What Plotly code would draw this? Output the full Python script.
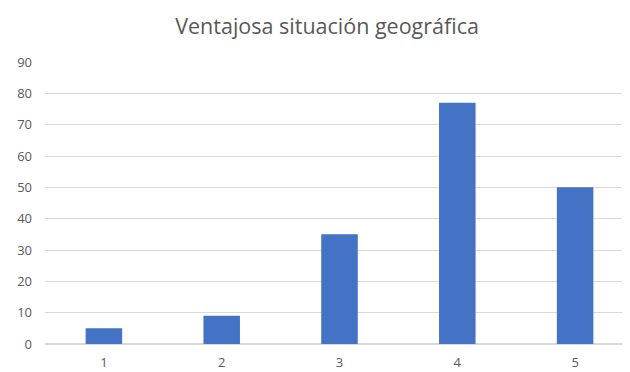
import plotly.graph_objects as go

categories = [1, 2, 3, 4, 5]
values = [5, 9, 35, 77, 50]
y_ticks = [0, 10, 20, 30, 40, 50, 60, 70, 80, 90]
title_text = "Ventajosa situación geográfica"

fig = go.Figure(go.Bar(x=categories, y=values, marker_color="#4472C4", marker_line_width=0))

# The page body has an 8px default margin, so the figure is sized to fit the window.
fig.update_layout(
    width=622, height=364,
    margin=dict(l=37, r=0, t=54, b=28, autoexpand=False),
    paper_bgcolor="white", plot_bgcolor="white",
    bargap=0.69,
    showlegend=False,
    title=dict(text=title_text, x=0.513, xanchor="center", yref="container", y=0.948,
               yanchor="middle", automargin=False,
               font=dict(family="Open Sans", size=21.5, color="#595959")),
    font=dict(family="Open Sans", size=13, color="#595959"),
)
fig.update_xaxes(range=[0.5, 5.466], tickvals=categories, showgrid=False, zeroline=False,
                 showline=False, ticks="", ticklabelstandoff=9, automargin=False,
                 tickfont=dict(size=13, color="#595959"))
fig.update_yaxes(range=[0, 90], tickvals=y_ticks, showgrid=True, gridcolor="#D9D9D9",
                 gridwidth=1, zeroline=True, zerolinecolor="#D9D9D9", showline=False,
                 ticks="", ticklabelstandoff=12, automargin=False,
                 tickfont=dict(size=13, color="#595959"))

fig.write_html("out.html")
